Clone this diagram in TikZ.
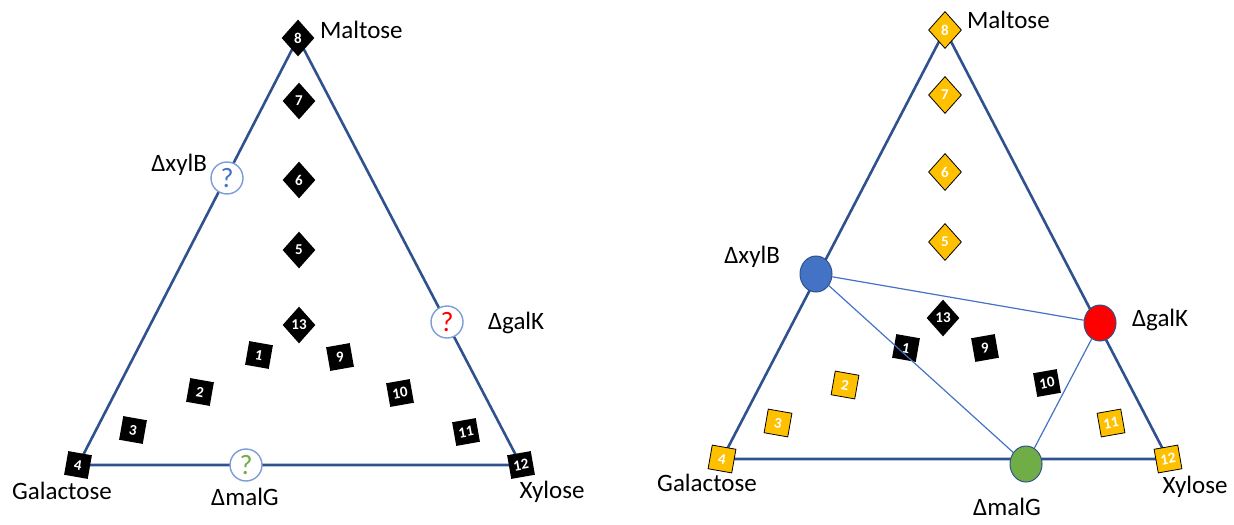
\documentclass[tikz,border=0pt]{standalone}
\usepackage{fontspec}
\setmainfont{Carlito}
\usetikzlibrary{shapes.geometric}
\definecolor{triBlue}{HTML}{2F528F}
\definecolor{linkBlue}{HTML}{4472C4}
\definecolor{qRed}{HTML}{FF0000}
\definecolor{qGreen}{HTML}{70AD47}
\definecolor{mYellow}{HTML}{FFC000}

\begin{document}
\begin{tikzpicture}[
  x=0.5pt, y=-0.5pt,
  edge/.style={draw=triBlue, line width=1.3pt},
  link/.style={draw=linkBlue, line width=0.6pt},
  sq/.style={rectangle, fill=black, text=white, minimum size=12pt, inner sep=0pt,
    font=\fontsize{7.5}{8}\selectfont\bfseries},
  dm/.style={diamond, fill=black, text=white, minimum width=16.5pt, minimum height=18.5pt,
    inner sep=0pt, font=\fontsize{7.5}{8}\selectfont\bfseries},
  yel/.style={fill=mYellow, draw=black, line width=0.4pt},
  lbl/.style={font=\fontsize{12.5}{15}\selectfont},
  qmark/.style={circle, draw=linkBlue!70, line width=0.7pt, fill=white, minimum size=16pt,
    inner sep=0pt, font=\fontsize{14}{16}\selectfont},
  blob/.style={ellipse, draw=triBlue, line width=0.5pt, minimum width=16pt, minimum height=18pt},
]
  \useasboundingbox (0,0) rectangle (1234,524);

  % left triangle, unknown mutants
  \coordinate (lGal) at (78,465);
  \coordinate (lMal) at (298,38);
  \coordinate (lXyl) at (521,465);
  \draw[edge] (lGal) -- (lMal) -- (lXyl) -- cycle;

  \node[dm] (l8) at (lMal) {8};
  \node[dm] (l7) at (299,101) {7};
  \node[dm] (l6) at (299,180) {6};
  \node[dm] (l5) at (299,250) {5};
  \node[dm] (l13) at (299,325) {13};
  \node[sq, rotate=-10] (l1) at (259,355) {1};
  \node[sq, rotate=-10] (l2) at (200,392) {2};
  \node[sq, rotate=-10] (l3) at (133,430) {3};
  \node[sq, rotate=-10] (l4) at (lGal) {4};
  \node[sq, rotate=10] (l9) at (340,357) {9};
  \node[sq, rotate=10] (l10) at (400,393) {10};
  \node[sq, rotate=10] (l11) at (466,432) {11};
  \node[sq, rotate=10] (l12) at (lXyl) {12};

  \node[qmark, text=linkBlue] (lxylB) at (227,178) {?};
  \node[qmark, text=qRed] (lgalK) at (447,322) {?};
  \node[qmark, text=qGreen] (lmalG) at (246,465) {?};

  \node[lbl, anchor=west] (lMalT) at (313,30) {Maltose};
  \node[lbl] (lGalT) at (62,491) {Galactose};
  \node[lbl] (lXylT) at (552,492) {Xylose};
  \node[lbl, anchor=east] (lxylBT) at (214,165) {ΔxylB};
  \node[lbl, anchor=west] (lgalKT) at (481,323) {ΔgalK};
  \node[lbl] (lmalGT) at (245,497) {ΔmalG};

  % right triangle, mutants placed
  \coordinate (rGal) at (722,459);
  \coordinate (rMal) at (945,30);
  \coordinate (rXyl) at (1168,459);
  \draw[edge] (rGal) -- (rMal) -- (rXyl) -- cycle;

  \node[dm, yel] (r8) at (rMal) {8};
  \node[dm, yel] (r7) at (945,95) {7};
  \node[dm, yel] (r6) at (945,172) {6};
  \node[dm, yel] (r5) at (945,242) {5};
  \node[dm] (r13) at (943,318) {13};
  \node[sq, rotate=-10] (r1) at (906,348) {1};
  \node[sq, yel, rotate=-10] (r2) at (845,385) {2};
  \node[sq, yel, rotate=-10] (r3) at (778,423) {3};
  \node[sq, yel, rotate=-10] (r4) at (rGal) {4};
  \node[sq, rotate=10] (r9) at (985,348) {9};
  \node[sq, rotate=10] (r10) at (1047,383) {10};
  \node[sq, yel, rotate=10] (r11) at (1111,423) {11};
  \node[sq, yel, rotate=10] (r12) at (rXyl) {12};

  \node[blob, fill=linkBlue] (rxylB) at (816,274) {};
  \node[blob, fill=qRed] (rgalK) at (1100,323) {};
  \node[blob, fill=qGreen] (rmalG) at (1026,464) {};
  \draw[link] (rxylB) -- (rgalK);
  \draw[link] (rxylB) -- (rmalG);
  \draw[link] (rgalK) -- (rmalG);

  \node[lbl, anchor=west] (rMalT) at (960,20) {Maltose};
  \node[lbl] (rGalT) at (707,483) {Galactose};
  \node[lbl] (rXylT) at (1195,487) {Xylose};
  \node[lbl, anchor=east] (rxylBT) at (787,257) {ΔxylB};
  \node[lbl, anchor=west] (rgalKT) at (1125,320) {ΔgalK};
  \node[lbl] (rmalGT) at (1007,507) {ΔmalG};
\end{tikzpicture}
\end{document}
